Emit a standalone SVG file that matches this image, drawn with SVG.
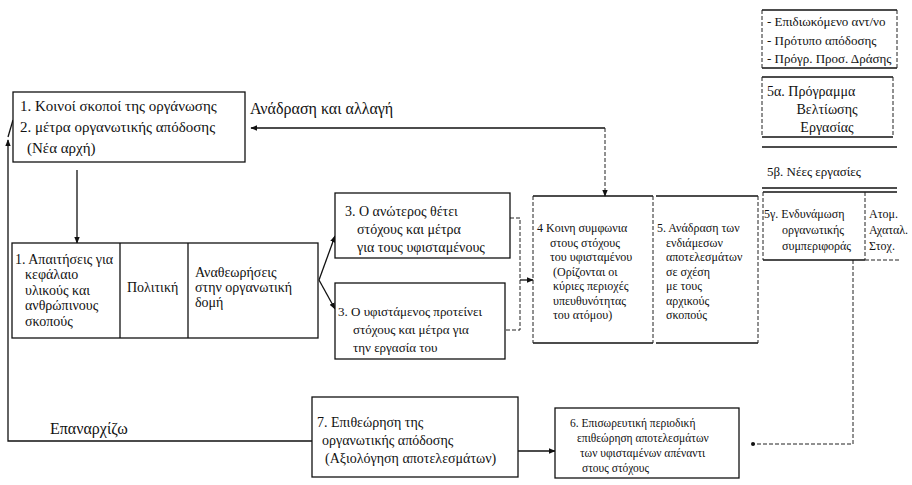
<svg xmlns="http://www.w3.org/2000/svg" width="912" height="485" viewBox="0 0 912 485">
<style>
text{font-family:"Liberation Serif","Times New Roman",serif;fill:#111}
.s11{font-size:11.5px}.s12{font-size:12px}.s13{font-size:13px}.s14{font-size:14px}.s15{font-size:15px}.s16{font-size:16px}
.b{fill:#fff;stroke:#111;stroke-width:1.3}
.l{fill:none;stroke:#111;stroke-width:1.3}
.d{fill:none;stroke:#222;stroke-width:1;stroke-dasharray:4,2}
</style>
<defs>
<marker id="ah" viewBox="0 0 10 10" refX="9" refY="5" markerWidth="7" markerHeight="7" orient="auto-start-reverse" markerUnits="userSpaceOnUse">
<path d="M0,1 L10,5 L0,9 z" fill="#111"/>
</marker>
<marker id="dot" viewBox="0 0 6 6" refX="3" refY="3" markerWidth="4" markerHeight="4" markerUnits="userSpaceOnUse">
<circle cx="3" cy="3" r="3" fill="#111"/>
</marker>
</defs>
<rect width="912" height="485" fill="#fff"/>

<g id="connectors">
<line class="l" x1="605" y1="128" x2="251" y2="128" marker-end="url(#ah)"/>
<line class="d" x1="605" y1="128" x2="605" y2="196" marker-end="url(#ah)"/>
<line class="l" x1="77" y1="170" x2="77" y2="243" marker-end="url(#ah)"/>
<line class="l" x1="319" y1="280" x2="335" y2="236" marker-end="url(#ah)"/>
<line class="l" x1="319" y1="280" x2="335" y2="309" marker-end="url(#ah)"/>
<polyline class="d" points="510,218 520,218 520,330 505,330"/>
<line class="l" x1="520" y1="280" x2="533" y2="280" marker-end="url(#ah)"/>
<polyline class="l" points="312,441 8,441 8,140" marker-end="url(#ah)"/>
<line class="l" x1="8" y1="137" x2="13" y2="120"/>
<line class="l" x1="518" y1="451" x2="555" y2="451" marker-end="url(#ah)"/>
<polyline class="d" points="853,260 853,444 753,444" marker-end="url(#dot)"/>
<line class="l" x1="762" y1="147" x2="897" y2="147"/>
<line class="l" x1="762" y1="188" x2="897" y2="188"/>
</g>

<g id="n1">
<rect class="b" x="13" y="92" width="232" height="70"/>
<text class="s15" x="20" y="111">1. Κοινοί σκοποί της οργάνωσης</text>
<text class="s15" x="20" y="132">2. μέτρα οργανωτικής απόδοσης</text>
<text class="s15" x="27" y="153">(Νέα αρχή)</text>
</g>
<g id="lbl-feedback"><text class="s16" x="250" y="114">Ανάδραση και αλλαγή</text></g>

<g id="n-row">
<rect class="b" x="12" y="243" width="306" height="95"/>
<line class="l" x1="120" y1="243" x2="120" y2="338"/>
<line class="l" x1="188" y1="243" x2="188" y2="338"/>
<text class="s14" x="15" y="264">1. Απαιτήσεις για</text>
<text class="s14" x="25" y="279">κεφάλαιο</text>
<text class="s14" x="25" y="295">υλικούς και</text>
<text class="s14" x="25" y="310">ανθρώπινους</text>
<text class="s14" x="25" y="326">σκοπούς</text>
<text class="s14" x="127" y="292">Πολιτική</text>
<text class="s14" x="195" y="277">Αναθεωρήσεις</text>
<text class="s14" x="195" y="292">στην οργανωτική</text>
<text class="s14" x="195" y="307">δομή</text>
</g>

<g id="n3a">
<rect class="b" x="335" y="193" width="175" height="65"/>
<text class="s14" x="345" y="216">3.  Ο ανώτερος θέτει</text>
<text class="s14" x="357" y="234">στόχους και μέτρα</text>
<text class="s14" x="357" y="252">για τους υφισταμένους</text>
</g>
<g id="n3b">
<rect class="b" x="335" y="283" width="170" height="76"/>
<text class="s13" x="338" y="316">3.  Ο υφιστάμενος προτείνει</text>
<text class="s13" x="353" y="334">στόχους και μέτρα για</text>
<text class="s13" x="353" y="352">την εργασία του</text>
</g>

<g id="n4">
<line class="l" x1="533" y1="196" x2="653" y2="196"/>
<line class="l" x1="533" y1="343" x2="653" y2="343"/>
<line class="d" x1="533" y1="196" x2="533" y2="343"/>
<line class="d" x1="653" y1="196" x2="653" y2="343"/>
<text class="s12" x="537" y="232">4  Κοινη συμφωνια</text>
<text class="s12" x="550" y="247">στους στόχους</text>
<text class="s12" x="550" y="261">του υφισταμένου</text>
<text class="s12" x="553" y="276">(Ορίζονται οι</text>
<text class="s12" x="553" y="290">κύριες περιοχές</text>
<text class="s12" x="553" y="305">υπευθυνότητας</text>
<text class="s12" x="553" y="319">του ατόμου)</text>
</g>
<g id="n5">
<line class="l" x1="656" y1="196" x2="758" y2="196"/>
<line class="l" x1="656" y1="343" x2="758" y2="343"/>
<line class="d" x1="758" y1="196" x2="758" y2="343"/>
<text class="s12" x="657" y="232">5. Ανάδραση των</text>
<text class="s12" x="666" y="247">ενδιάμεσων</text>
<text class="s12" x="666" y="261">αποτελεσμάτων</text>
<text class="s12" x="666" y="276">σε σχέση</text>
<text class="s12" x="666" y="290">με τους</text>
<text class="s12" x="666" y="305">αρχικούς</text>
<text class="s12" x="666" y="319">σκοπούς</text>
</g>

<g id="n-top">
<line class="l" x1="762" y1="10" x2="897" y2="10"/>
<line class="l" x1="762" y1="68" x2="897" y2="68"/>
<line class="d" x1="762" y1="10" x2="762" y2="68"/>
<line class="d" x1="897" y1="10" x2="897" y2="68"/>
<text class="s13" x="767" y="26">- Επιδιωκόμενο αντ/νο</text>
<text class="s13" x="767" y="45">- Πρότυπο απόδοσης</text>
<text class="s13" x="767" y="63">- Πρόγρ. Προσ. Δράσης</text>
</g>
<g id="n5a">
<line class="l" x1="762" y1="77" x2="893" y2="77"/>
<line class="l" x1="762" y1="137" x2="893" y2="137"/>
<line class="d" x1="762" y1="77" x2="762" y2="137"/>
<line class="d" x1="893" y1="77" x2="893" y2="137"/>
<text class="s14" x="767" y="96">5α. Πρόγραμμα</text>
<text class="s14" x="827" y="114" text-anchor="middle">Βελτίωσης</text>
<text class="s14" x="827" y="132" text-anchor="middle">Εργασίας</text>
</g>
<g id="n5b"><text class="s13" x="767" y="176">5β. Νέες εργασίες</text></g>
<g id="n5c">
<line class="l" x1="763" y1="192" x2="897" y2="192"/>
<line class="l" x1="763" y1="260" x2="865" y2="260"/>
<line class="d" x1="865" y1="260" x2="900" y2="260"/>
<line class="d" x1="763" y1="192" x2="763" y2="260"/>
<line class="d" x1="865" y1="192" x2="865" y2="260"/>
<text class="s12" x="764" y="218">5γ. Ενδυνάμωση</text>
<text class="s12" x="782" y="234">οργανωτικής</text>
<text class="s12" x="782" y="250">συμπεριφοράς</text>
<text class="s12" x="869" y="218">Ατομ.</text>
<text class="s12" x="869" y="234">Αχαταλ.</text>
<text class="s12" x="869" y="250">Στοχ.</text>
</g>

<g id="lbl-restart"><text class="s16" x="50" y="434">Επαναρχίζω</text></g>
<g id="n7">
<rect class="b" x="312" y="397" width="206" height="80"/>
<text class="s14" x="317" y="427">7.  Επιθεώρηση της</text>
<text class="s14" x="322" y="445">οργανωτικής απόδοσης</text>
<text class="s14" x="325" y="463">(Αξιολόγηση αποτελεσμάτων)</text>
</g>
<g id="n6">
<rect class="b" x="555" y="408" width="184" height="70"/>
<text class="s11" x="570" y="427">6.  Επισωρευτική περιοδική</text>
<text class="s11" x="577" y="442">επιθεώρηση αποτελεσμάτων</text>
<text class="s11" x="580" y="457">των υφισταμένων απέναντι</text>
<text class="s11" x="582" y="472">στους στόχους</text>
</g>
</svg>
